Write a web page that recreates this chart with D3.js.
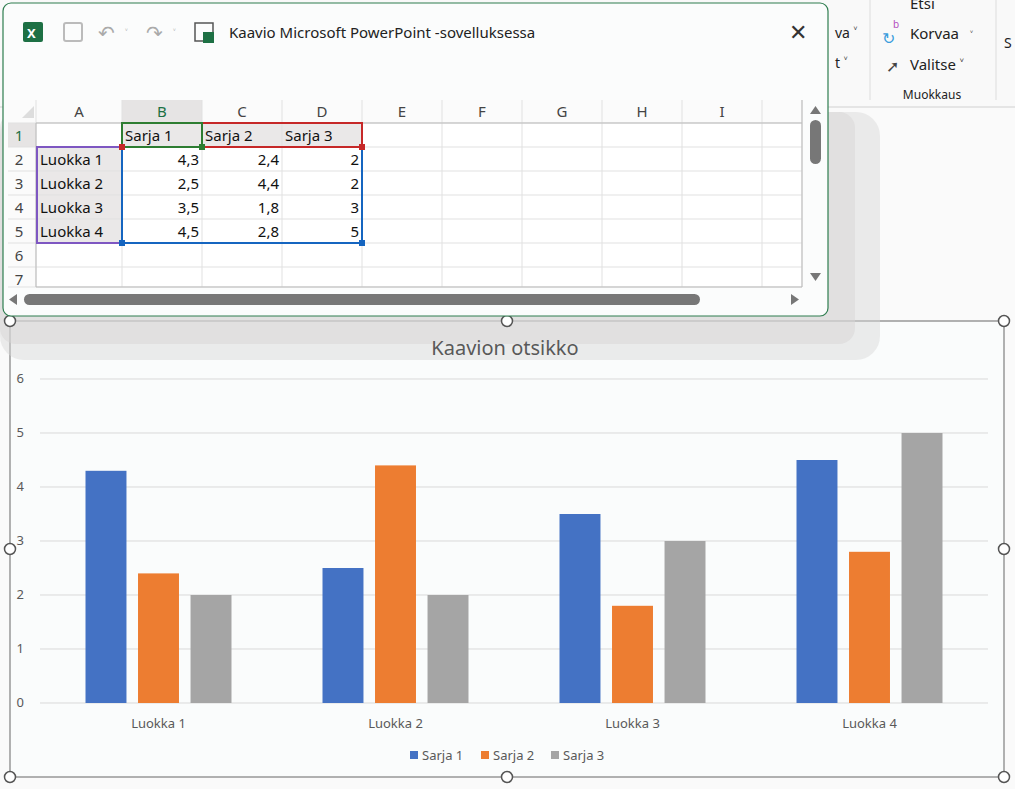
<!DOCTYPE html>
<html><head><meta charset="utf-8">
<script src="https://cdn.jsdelivr.net/npm/d3@7"></script>
<style>body{margin:0;background:#fff;overflow:hidden}svg{display:block;font-family:"Noto Sans","Open Sans",sans-serif}</style>
</head><body><svg id="s" width="1015" height="789"></svg>
<script>
const categories=["Luokka 1","Luokka 2","Luokka 3","Luokka 4"];
const seriesNames=["Sarja 1","Sarja 2","Sarja 3"];
const sarja1=[4.3,2.5,3.5,4.5];
const sarja2=[2.4,4.4,1.8,2.8];
const sarja3=[2,2,3,5];
const yTicks=[0,1,2,3,4,5,6];
const colors=["#4472C4","#ED7D31","#A5A5A5"];
const series=[sarja1,sarja2,sarja3];
const colLetters=["A","B","C","D","E","F","G","H","I"];

const svg=d3.select("#s");
svg.append("rect").attr("width",1015).attr("height",789).attr("fill","#fafafa");
svg.append("rect").attr("x",0).attr("y",0).attr("width",1015).attr("height",106).attr("fill","#f9f9f9");
svg.append("line").attr("x1",0).attr("x2",1015).attr("y1",107).attr("y2",107).attr("stroke","#d0d0d0");
const rib=svg.append("g").attr("font-size",15).attr("fill","#222");
rib.append("text").attr("x",910).attr("y",9).text("Etsi");
rib.append("text").attr("x",910).attr("y",39).text("Korvaa");
rib.append("text").attr("x",910).attr("y",70).text("Valitse ˅");
rib.append("text").attr("x",970).attr("y",39).text("˅").attr("font-size",11);
rib.append("text").attr("x",882).attr("y",44).text("↻").attr("fill","#3b9ddd").attr("font-size",16);
rib.append("text").attr("x",893).attr("y",28).text("b").attr("fill","#b44fc0").attr("font-size",10);
rib.append("text").attr("x",886).attr("y",72).text("➚").attr("font-size",16).attr("fill","#444");
rib.append("text").attr("x",932).attr("y",99).attr("text-anchor","middle").attr("font-size",12).text("Muokkaus");
rib.append("text").attr("x",835).attr("y",38).attr("font-size",14).text("va ˅");
rib.append("text").attr("x",835).attr("y",68).attr("font-size",14).text("t ˅");
svg.append("line").attr("x1",870).attr("x2",870).attr("y1",0).attr("y2",100).attr("stroke","#ddd");
svg.append("line").attr("x1",996).attr("x2",996).attr("y1",0).attr("y2",100).attr("stroke","#ddd");
rib.append("text").attr("x",1004).attr("y",48).attr("font-size",14).text("S");

// CHART
svg.append("rect").attr("x",10).attr("y",321).attr("width",994).attr("height",456).attr("fill","#fafcfc").attr("stroke","#666");
// shadow of excel window
svg.append("rect").attr("x",0).attr("y",112).attr("width",880).attr("height",248).attr("rx",24).attr("fill","#d8d6d6").attr("opacity",0.45);
svg.append("rect").attr("x",0).attr("y",112).attr("width",855).attr("height",232).attr("rx",16).attr("fill","#d8d6d6").attr("opacity",0.5);
svg.append("text").attr("x",505).attr("y",355).attr("text-anchor","middle").attr("font-size",20).attr("fill","#595959").text("Kaavion otsikko");
const y=d3.scaleLinear().domain([0,6]).range([703,379]);
const x=d3.scaleBand().domain(categories).range([40,988]);
const xs=d3.scaleBand().domain(seriesNames).range([0,146]).paddingInner(0.22);
const g=svg.append("g");
g.selectAll("line.grid").data(yTicks).join("line").attr("x1",40).attr("x2",988).attr("y1",d=>y(d)).attr("y2",d=>y(d)).attr("stroke","#d9d9d9");
g.selectAll("text.yt").data(yTicks).join("text").attr("x",24).attr("y",d=>y(d)+4).attr("text-anchor","end").attr("font-size",13).attr("fill","#595959").text(d=>d);
series.forEach((s,i)=>{
  g.selectAll(null).data(s).join("rect")
   .attr("x",(d,j)=>x(categories[j])+x.bandwidth()/2-73+xs(seriesNames[i]))
   .attr("width",xs.bandwidth()).attr("y",d=>y(d)).attr("height",d=>y(0)-y(d)).attr("fill",colors[i]);
});
g.selectAll("text.xt").data(categories).join("text").attr("x",d=>x(d)+x.bandwidth()/2).attr("y",728).attr("text-anchor","middle").attr("font-size",13).attr("fill","#595959").text(d=>d);
const lx=[410,481,551];
seriesNames.forEach((n,i)=>{
  svg.append("rect").attr("x",lx[i]).attr("y",751).attr("width",8).attr("height",8).attr("fill",colors[i]);
  svg.append("text").attr("x",lx[i]+12).attr("y",760).attr("font-size",13).attr("fill","#595959").text(n);
});
[[10,321],[507,321],[1004,321],[10,549],[1004,549],[10,777],[507,777],[1004,777]].forEach(p=>{
  svg.append("circle").attr("cx",p[0]).attr("cy",p[1]).attr("r",5.5).attr("fill","#fff").attr("stroke","#555").attr("stroke-width",1.5);
});

// EXCEL WINDOW
const w=svg.append("g");
w.append("rect").attr("x",3).attr("y",3).attr("width",825).attr("height",313).attr("rx",8).attr("fill","#fbfcfc").attr("stroke","#2e7d4f").attr("stroke-width",1.2);
w.append("rect").attr("x",23).attr("y",22).attr("width",20).attr("height",20).attr("rx",2).attr("fill","#1d7044");
w.append("text").attr("x",27).attr("y",38).attr("font-size",13).attr("font-weight","bold").attr("fill","#fff").text("X");
w.append("rect").attr("x",64).attr("y",23).attr("width",18).attr("height",18).attr("rx",2).attr("fill","none").attr("stroke","#bbb").attr("stroke-width",2);
w.append("text").attr("x",98).attr("y",40).attr("font-size",20).attr("fill","#aaa").text("↶");
w.append("text").attr("x",125).attr("y",37).attr("font-size",10).attr("fill","#aaa").text("˅");
w.append("text").attr("x",146).attr("y",40).attr("font-size",20).attr("fill","#aaa").text("↷");
w.append("text").attr("x",173).attr("y",37).attr("font-size",10).attr("fill","#aaa").text("˅");
w.append("rect").attr("x",195).attr("y",23).attr("width",18).attr("height",18).attr("fill","none").attr("stroke","#555").attr("stroke-width",1.5);
w.append("rect").attr("x",203).attr("y",32).attr("width",11).attr("height",11).attr("fill","#1d7044");
w.append("text").attr("x",229).attr("y",38).attr("font-size",15).attr("fill","#222").text("Kaavio Microsoft PowerPoint -sovelluksessa");
w.append("text").attr("x",789).attr("y",40).attr("font-size",22).attr("fill","#333").text("✕");
const colX=[36,122,202,282,362,442,522,602,682,762,802];
const rowY=[123,147,171,195,219,243,267,287];
w.append("rect").attr("x",8).attr("y",100).attr("width",794).attr("height",187).attr("fill","#fff");
w.append("rect").attr("x",8).attr("y",100).attr("width",794).attr("height",23).attr("fill","#fbfbfb");
w.append("rect").attr("x",8).attr("y",100).attr("width",28).attr("height",187).attr("fill","#fbfbfb");
w.append("rect").attr("x",122).attr("y",100).attr("width",80).attr("height",23).attr("fill","#e6e4e4");
w.append("rect").attr("x",37).attr("y",147).attr("width",85).attr("height",96).attr("fill","#eae8e8");
w.append("rect").attr("x",122).attr("y",123).attr("width",240).attr("height",24).attr("fill","#eae8e8");
w.append("rect").attr("x",8).attr("y",123).attr("width",28).attr("height",24).attr("fill","#e6e4e4");
w.append("path").attr("d","M22,118 L34,118 L34,106 Z").attr("fill","#ddd");
colX.forEach(cxv=>w.append("line").attr("x1",cxv).attr("x2",cxv).attr("y1",100).attr("y2",287).attr("stroke","#e1e1e1"));
rowY.forEach(ry=>w.append("line").attr("x1",8).attr("x2",802).attr("y1",ry).attr("y2",ry).attr("stroke","#e1e1e1"));
w.append("line").attr("x1",36).attr("x2",802).attr("y1",123).attr("y2",123).attr("stroke","#bbb");
w.append("line").attr("x1",36).attr("x2",36).attr("y1",123).attr("y2",287).attr("stroke","#bbb");
w.append("line").attr("x1",36).attr("x2",802).attr("y1",287).attr("y2",287).attr("stroke","#bbb");
w.append("line").attr("x1",802).attr("x2",802).attr("y1",100).attr("y2",287).attr("stroke","#bbb");
colLetters.forEach((c,i)=>w.append("text").attr("x",(colX[i]+colX[i+1])/2).attr("y",117).attr("text-anchor","middle").attr("font-size",15).attr("fill",i==1?"#1d7044":"#444").text(c));
d3.range(1,8).forEach((r,i)=>w.append("text").attr("x",19).attr("y",rowY[i]+18).attr("text-anchor","middle").attr("font-size",15).attr("fill",i==0?"#1d7044":"#444").text(r));
const fmt=v=>String(v).replace(".",",");
seriesNames.forEach((n,i)=>w.append("text").attr("x",colX[i+1]+3).attr("y",141).attr("font-size",15).attr("fill","#111").text(n));
categories.forEach((c,j)=>{
  w.append("text").attr("x",40).attr("y",rowY[j+1]+18).attr("font-size",15).attr("fill","#111").text(c);
  series.forEach((s,i)=>w.append("text").attr("x",colX[i+2]-3).attr("y",rowY[j+1]+18).attr("text-anchor","end").attr("font-size",15).attr("fill","#111").text(fmt(s[j])));
});
w.append("rect").attr("x",37).attr("y",147).attr("width",85).attr("height",96).attr("fill","none").attr("stroke","#7e57c2").attr("stroke-width",2);
w.append("rect").attr("x",122).attr("y",147).attr("width",240).attr("height",96).attr("fill","none").attr("stroke","#1565c0").attr("stroke-width",2);
w.append("rect").attr("x",202).attr("y",123).attr("width",160).attr("height",24).attr("fill","none").attr("stroke","#c62828").attr("stroke-width",2);
w.append("rect").attr("x",122).attr("y",123).attr("width",80).attr("height",24).attr("fill","none").attr("stroke","#2e7d32").attr("stroke-width",2);
[[122,147,"#c62828"],[202,147,"#2e7d32"],[362,147,"#c62828"],[362,243,"#1565c0"],[122,243,"#1565c0"]].forEach(p=>w.append("rect").attr("x",p[0]-3).attr("y",p[1]-3).attr("width",6).attr("height",6).attr("fill",p[2]));
w.append("path").attr("d","M810,114 L821,114 L815.5,106 Z").attr("fill","#777");
w.append("rect").attr("x",810).attr("y",120).attr("width",11).attr("height",44).attr("rx",5.5).attr("fill","#777");
w.append("path").attr("d","M810,273 L821,273 L815.5,281 Z").attr("fill","#777");
w.append("path").attr("d","M17,294 L17,305 L9,299.5 Z").attr("fill","#777");
w.append("rect").attr("x",24).attr("y",294).attr("width",676).attr("height",11).attr("rx",5.5).attr("fill","#777");
w.append("path").attr("d","M791,294 L791,305 L799,299.5 Z").attr("fill","#777");
</script></body></html>
